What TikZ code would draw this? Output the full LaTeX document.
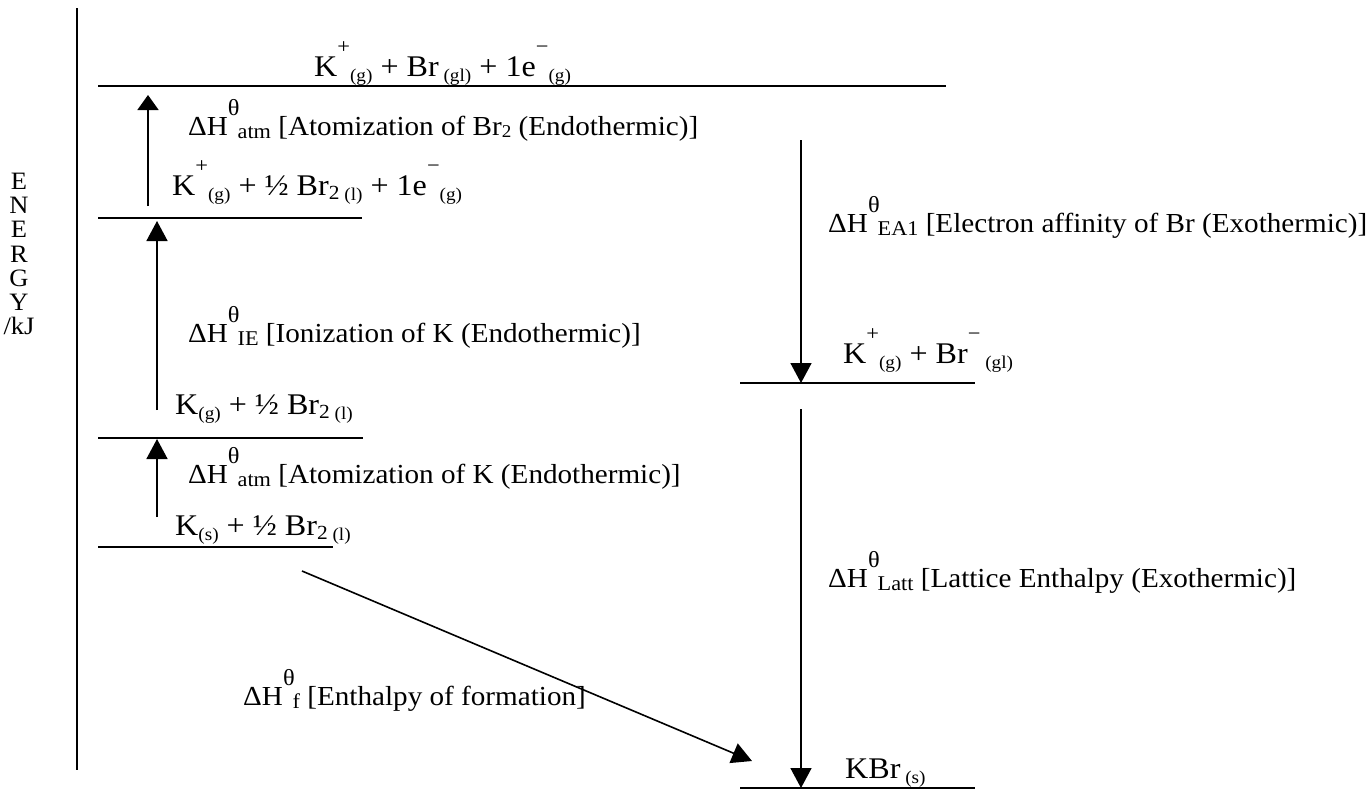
\documentclass[tikz,border=0pt]{standalone}
\usepackage{fontspec}
\setmainfont{Liberation Serif}
\newfontfamily\spfont{Liberation Serif}[FakeStretch=1.07]
\newfontfamily\lbfont{Liberation Serif}[FakeStretch=1.06]
\usetikzlibrary{arrows.meta}
\newcommand\Sup[1]{\raisebox{0.74em}{\fontsize{21}{21}\selectfont #1}}
\newcommand\Sub[1]{\raisebox{-0.17em}{\fontsize{18}{18}\selectfont #1}}
\newcommand\SubB[2]{\raisebox{-0.15em}{\fontsize{20}{20}\selectfont #1}\raisebox{-0.17em}{\fontsize{18}{18}\selectfont #2}}
\newcommand\Subl[1]{\raisebox{-0.1em}{\fontsize{18}{18}\selectfont #1}}
\newcommand\dH[1]{ΔH\raisebox{0.7em}{\fontsize{23}{23}\selectfont θ}\kern-2pt\raisebox{-0.12em}{\fontsize{21}{21}\selectfont #1}}
\begin{document}
\begin{tikzpicture}[x=1pt,y=-1pt,
  lvl/.style={line width=2.2pt},
  axis/.style={line width=2pt},
  arr/.style={line width=1.6pt,-{Triangle[length=20pt,width=21pt]}},
  arrs/.style={line width=1.6pt,-{Triangle[length=15pt,width=21pt]}},
  sp/.style={anchor=base west,inner sep=0pt,font=\spfont\fontsize{30}{36}\selectfont},
  lb/.style={anchor=base west,inner sep=0pt,font=\lbfont\fontsize{27.5}{33}\selectfont},
  en/.style={anchor=north,inner sep=0pt,align=center,font=\lbfont\fontsize{25}{24.2}\selectfont}]
\useasboundingbox (0,0) rectangle (1370,801);
\fill[white] (0,0) rectangle (1370,801);
% energy axis
\coordinate (axT) at (77,8);
\coordinate (axB) at (77,770);
\draw[axis] (axT) -- (axB);
\node[en] (energy) at (19,173) {E\\N\\E\\R\\G\\Y\\/kJ};
% levels
\coordinate (l1a) at (98,86);  \coordinate (l1b) at (946,86);
\coordinate (l2a) at (98,218); \coordinate (l2b) at (362,218);
\coordinate (l3a) at (98,438); \coordinate (l3b) at (363,438);
\coordinate (l4a) at (98,547); \coordinate (l4b) at (333,547);
\coordinate (r1a) at (740,383); \coordinate (r1b) at (975,383);
\coordinate (r2a) at (740,788); \coordinate (r2b) at (975,788);
\draw[lvl] (l1a) -- (l1b);
\draw[lvl] (l2a) -- (l2b);
\draw[lvl] (l3a) -- (l3b);
\draw[lvl] (l4a) -- (l4b);
\draw[lvl] (r1a) -- (r1b);
\draw[lvl] (r2a) -- (r2b);
% species
\node[sp] (s1) at (314,76) {K\Sup{+}\Sub{(g)} + Br\Sub{\ (gl)} + 1e\Sup{−}\Sub{(g)}};
\node[sp] (s2) at (172,195) {K\Sup{+}\Sub{(g)} + ½ Br\SubB{2}{\ (l)} + 1e\Sup{−}\Sub{(g)}};
\node[sp] (s3) at (175,414) {K\Sub{(g)} + ½ Br\SubB{2}{\ (l)}};
\node[sp] (s4) at (175,535) {K\Sub{(s)} + ½ Br\SubB{2}{\ (l)}};
\node[sp] (s5) at (843,363) {K\Sup{+}\Sub{(g)} + Br\Sup{−}\Sub{\ (gl)}};
\node[sp] (s6) at (845,778) {KBr\Sub{\ (s)}};
% labels
\node[lb] (t1) at (188,135) {\dH{atm} [Atomization of Br\Subl{2} (Endothermic)]};
\node[lb] (t2) at (188,342) {\dH{IE} [Ionization of K (Endothermic)]};
\node[lb] (t3) at (188,483) {\dH{atm} [Atomization of K (Endothermic)]};
\node[lb] (t4) at (828,232) {\dH{EA1} [Electron affinity of Br (Exothermic)]};
\node[lb] (t5) at (828,587) {\dH{Latt} [Lattice Enthalpy (Exothermic)]};
\node[lb] (t6) at (243,705) {\dH{f} [Enthalpy of formation]};
% arrows
\coordinate (a1s) at (148,206); \coordinate (a1e) at (148,95);
\coordinate (a2s) at (157,410); \coordinate (a2e) at (157,221);
\coordinate (a3s) at (157,517); \coordinate (a3e) at (157,439);
\coordinate (a4s) at (801,140); \coordinate (a4e) at (801,383);
\coordinate (a5s) at (801,409); \coordinate (a5e) at (801,788);
\coordinate (a6s) at (302,571); \coordinate (a6e) at (752,761);
\draw[arrs] (a1s) -- (a1e);
\draw[arr] (a2s) -- (a2e);
\draw[arr] (a3s) -- (a3e);
\draw[arr] (a4s) -- (a4e);
\draw[arr] (a5s) -- (a5e);
\draw[arr] (a6s) -- (a6e);
\end{tikzpicture}
\end{document}
